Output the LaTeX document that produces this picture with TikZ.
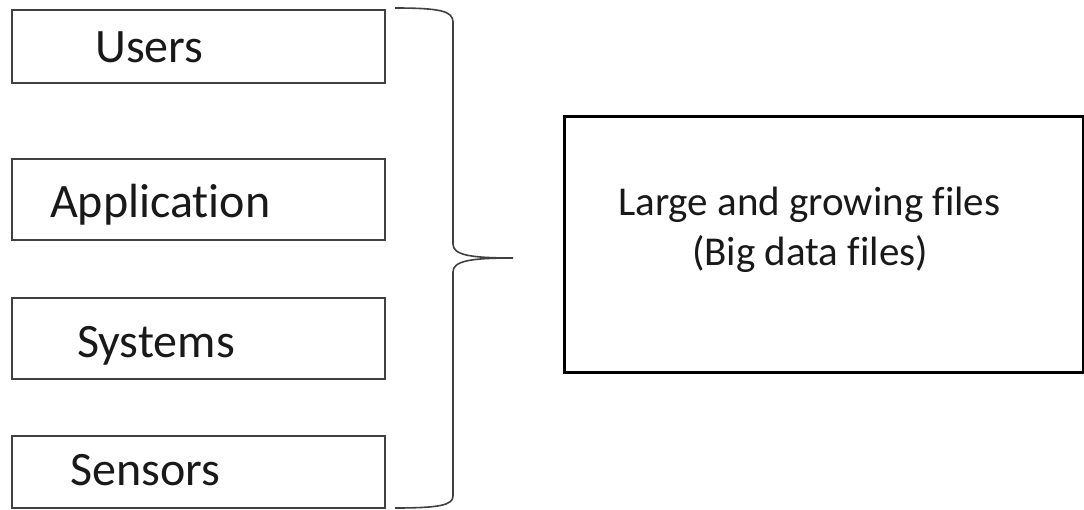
\documentclass[tikz,border=0pt]{standalone}
\usepackage{fontspec}
\setmainfont{Carlito}[Ligatures=CommonOff]
\begin{document}
\begin{tikzpicture}[x=1pt,y=-1pt,
  srcbox/.style={draw=black!75,line width=1.6pt,inner sep=0pt},
  bigbox/.style={draw=black,line width=2.6pt,inner sep=0pt},
  srclabel/.style={anchor=base west,inner sep=0pt,font=\fontsize{48}{58}\selectfont,text=black!90},
  biglabel/.style={anchor=base west,inner sep=0pt,font=\fontsize{41}{49}\selectfont,text=black!90},
  bracestyle/.style={draw=black!75,line width=1.6pt}]
\useasboundingbox (0,0) rectangle (1084,509);
% source boxes
\node[srcbox,minimum width=373pt,minimum height=73pt,anchor=north west] (users) at (11,9) {};
\node[srcbox,minimum width=373pt,minimum height=81pt,anchor=north west] (app) at (11,158) {};
\node[srcbox,minimum width=373pt,minimum height=81pt,anchor=north west] (sys) at (11,297) {};
\node[srcbox,minimum width=373pt,minimum height=72pt,anchor=north west] (sens) at (11,435) {};
\node[srclabel] (tusers) at (95,62) {Users};
\node[srclabel] (tapp) at (50,217) {Application};
\node[srclabel] (tsys) at (77,357) {Systems};
\node[srclabel] (tsens) at (70,485) {Sensors};
% big box
\node[bigbox,minimum width=519pt,minimum height=256pt,anchor=north west] (big) at (563,115) {};
\node[biglabel] (l1) at (618,215) {Large and growing files};
\node[biglabel] (l2) at (692,265) {(Big data files)};
% brace
\coordinate (btop) at (395,8);
\coordinate (btip) at (513,258);
\coordinate (bbot) at (395,508);
\draw[bracestyle] (btop) .. controls (440,8) and (453,11) .. (453,22)
  -- (453,244) .. controls (453,255) and (470,258) .. (btip)
  .. controls (470,258) and (453,261) .. (453,272)
  -- (453,496) .. controls (453,505) and (440,508) .. (bbot);
\end{tikzpicture}
\end{document}
